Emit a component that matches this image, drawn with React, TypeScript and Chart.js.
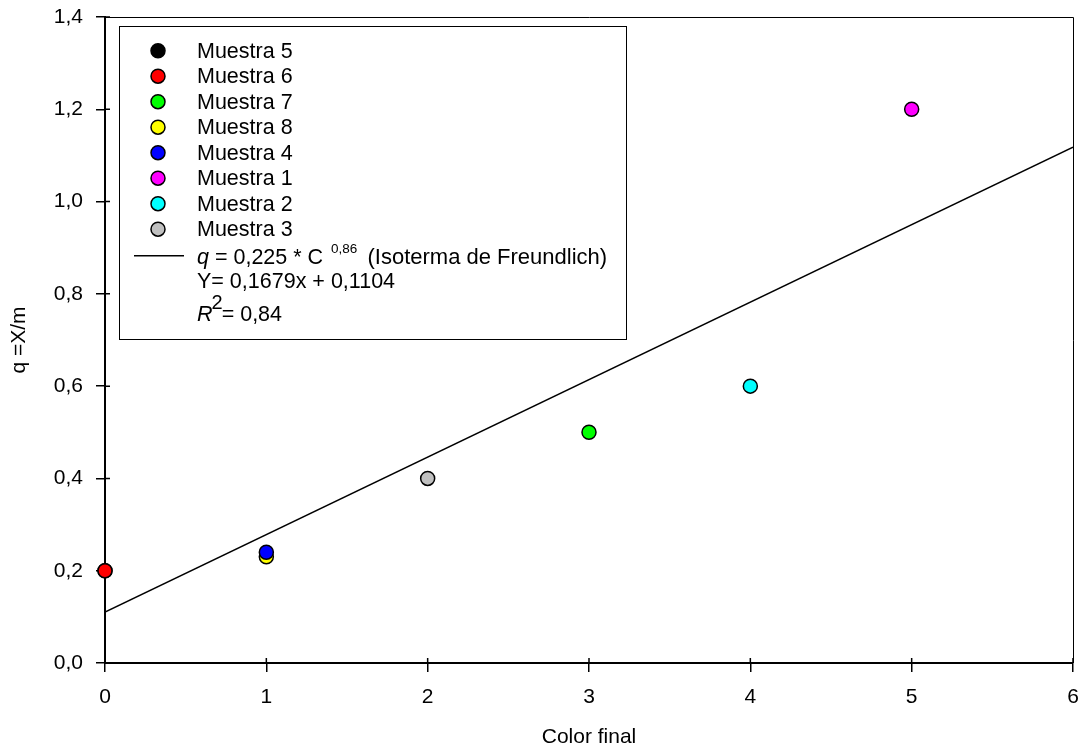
import React, { useEffect, useRef } from "react";
import { Chart, registerables } from "chart.js";

Chart.register(...registerables);

const sampleNames = ["Muestra 5", "Muestra 6", "Muestra 7", "Muestra 8", "Muestra 4", "Muestra 1", "Muestra 2", "Muestra 3"];
const sampleColors = ["#000000", "#ff0000", "#00ff00", "#ffff00", "#0000ff", "#ff00ff", "#00ffff", "#c0c0c0"];
const sampleX = [0, 0, 3, 1, 1, 5, 4, 2];
const sampleY = [0.2, 0.2, 0.5, 0.23, 0.24, 1.2, 0.6, 0.4];

const fitX = [0, 6];
const fitY = [0.1104, 1.1178];

const xTicks = [0, 1, 2, 3, 4, 5, 6];
const yTicks = [0, 0.2, 0.4, 0.6, 0.8, 1.0, 1.2, 1.4];

const xTitle = "Color final";
const yTitle = "q =X/m";

const FONT = "'Liberation Sans', Arial, sans-serif";

const framePlugin = {
  id: "frameAndLegend",
  beforeDatasetsDraw(chart: any) {
    const ctx = chart.ctx as CanvasRenderingContext2D;
    const a = chart.chartArea;
    const xs = chart.scales.x;
    const ys = chart.scales.y;
    ctx.save();
    // thin frame top & right
    ctx.strokeStyle = "#000";
    ctx.lineWidth = 1;
    ctx.beginPath();
    ctx.moveTo(a.left, a.top + 0.5);
    ctx.lineTo(a.right + 0.5, a.top + 0.5);
    ctx.lineTo(a.right + 0.5, a.bottom);
    ctx.stroke();
    // inward tick stubs
    ctx.lineWidth = 1.5;
    ctx.beginPath();
    xTicks.forEach((v) => {
      const px = xs.getPixelForValue(v);
      ctx.moveTo(px, a.bottom);
      ctx.lineTo(px, a.bottom - 5);
    });
    yTicks.forEach((v) => {
      const py = ys.getPixelForValue(v);
      ctx.moveTo(a.left, py);
      ctx.lineTo(a.left + 5, py);
    });
    ctx.stroke();
    ctx.restore();
  },
  afterDraw(chart: any) {
    const ctx = chart.ctx as CanvasRenderingContext2D;
    const a = chart.chartArea;
    ctx.save();

    // axis titles
    ctx.fillStyle = "#000";
    ctx.font = `21px ${FONT}`;
    ctx.textAlign = "center";
    ctx.textBaseline = "alphabetic";
    ctx.fillText(xTitle, (a.left + a.right) / 2, 743);
    ctx.save();
    ctx.translate(25, (a.top + a.bottom) / 2);
    ctx.rotate(-Math.PI / 2);
    ctx.fillText(yTitle, 0, 0);
    ctx.restore();

    // legend box
    const bx = 119.5, by = 26.5, bw = 507, bh = 313;
    ctx.lineWidth = 1;
    ctx.strokeStyle = "#000";
    ctx.fillStyle = "#fff";
    ctx.fillRect(bx, by, bw, bh);
    ctx.strokeRect(bx, by, bw, bh);

    const mx = 158;
    const tx = 197;
    const row0 = 50.7;
    const rowH = 25.5;
    ctx.textAlign = "left";
    ctx.textBaseline = "middle";
    sampleNames.forEach((name, i) => {
      const y = row0 + i * rowH;
      ctx.beginPath();
      ctx.arc(mx, y, 7, 0, Math.PI * 2);
      ctx.fillStyle = sampleColors[i];
      ctx.fill();
      ctx.lineWidth = 1.5;
      ctx.strokeStyle = "#000";
      ctx.stroke();
      ctx.fillStyle = "#000";
      ctx.font = `21.5px ${FONT}`;
      ctx.fillText(name, tx, y + 1);
    });

    // fit line row
    const ly = 255.7;
    ctx.beginPath();
    ctx.lineWidth = 1.5;
    ctx.moveTo(134, ly);
    ctx.lineTo(184, ly);
    ctx.stroke();

    const baseLy = ly + 8;
    ctx.textBaseline = "alphabetic";
    let cx = tx;
    ctx.font = `italic 21.5px ${FONT}`;
    ctx.fillText("q", cx, baseLy);
    cx += ctx.measureText("q").width;
    ctx.font = `21.5px ${FONT}`;
    const p1 = " = 0,225 * C ";
    ctx.fillText(p1, cx, baseLy);
    cx += ctx.measureText(p1).width + 2;
    ctx.font = `13.5px ${FONT}`;
    ctx.fillText("0,86", cx, baseLy - 11);
    cx += ctx.measureText("0,86").width + 4;
    ctx.font = `22px ${FONT}`;
    ctx.fillText(" (Isoterma de Freundlich)", cx, baseLy);

    ctx.font = `21.5px ${FONT}`;
    ctx.fillText("Y= 0,1679x + 0,1104", tx, 280 + 8);

    const rBase = 321;
    cx = tx;
    ctx.font = `italic 21.5px ${FONT}`;
    ctx.fillText("R", cx, rBase);
    cx += ctx.measureText("R").width - 1;
    ctx.font = `20px ${FONT}`;
    ctx.fillText("2", cx, rBase - 12);
    cx += ctx.measureText("2").width - 1;
    ctx.font = `21.5px ${FONT}`;
    ctx.fillText("= 0,84", cx, rBase);

    ctx.restore();
  },
};

export default function App() {
  const ref = useRef<HTMLCanvasElement | null>(null);
  useEffect(() => {
    document.body.style.margin = "0";
    const canvas = ref.current;
    if (!canvas) return;
    const fitData = fitX.map((x, i) => ({ x, y: fitY[i] }));
    const datasets: any[] = [
      {
        type: "line",
        label: "fit",
        data: fitData,
        borderColor: "#000",
        borderWidth: 1.5,
        pointRadius: 0,
        showLine: true,
        fill: false,
        order: 100,
      },
      ...sampleNames.map((name, i) => ({
        type: "scatter",
        label: name,
        data: [{ x: sampleX[i], y: sampleY[i] }],
        backgroundColor: sampleColors[i],
        borderColor: "#000",
        borderWidth: 1.5,
        pointRadius: 7,
        clip: false,
        order: 20 - i,
      })),
    ];
    const zeroPad = (s: any) => {
      s.paddingTop = 0;
      s.paddingBottom = 0;
      s.paddingLeft = 0;
      s.paddingRight = 0;
    };
    const chart = new Chart(canvas, {
      type: "scatter",
      data: { datasets },
      options: {
        responsive: false,
        animation: false,
        devicePixelRatio: 1,
        layout: { padding: { top: 17, right: 9, left: 0, bottom: 0 } },
        plugins: { legend: { display: false }, tooltip: { enabled: false } },
        scales: {
          x: {
            type: "linear",
            min: 0,
            max: 6,
            afterBuildTicks: (s: any) => {
              s.ticks = xTicks.map((v) => ({ value: v }));
            },
            afterFit: (s: any) => {
              s.height = 84;
              zeroPad(s);
            },
            ticks: {
              color: "#000",
              font: { family: FONT, size: 21 },
              padding: 13,
              maxRotation: 0,
              callback: (v: any) => String(v),
            },
            grid: { drawOnChartArea: false, drawTicks: true, tickLength: 9, color: "#000", lineWidth: 1.5 },
            border: { display: true, color: "#000", width: 2 },
          },
          y: {
            type: "linear",
            min: 0,
            max: 1.4,
            afterBuildTicks: (s: any) => {
              s.ticks = yTicks.map((v) => ({ value: v }));
            },
            afterFit: (s: any) => {
              s.width = 105;
              zeroPad(s);
            },
            ticks: {
              color: "#000",
              font: { family: FONT, size: 21 },
              padding: 13,
              callback: (v: any) => Number(v).toFixed(1).replace(".", ","),
            },
            grid: { drawOnChartArea: false, drawTicks: true, tickLength: 9, color: "#000", lineWidth: 1.5 },
            border: { display: true, color: "#000", width: 2 },
          },
        },
      },
      plugins: [framePlugin],
    } as any);
    return () => chart.destroy();
  }, []);
  return <canvas ref={ref} width={1082} height={747} style={{ display: "block" }} />;
}
